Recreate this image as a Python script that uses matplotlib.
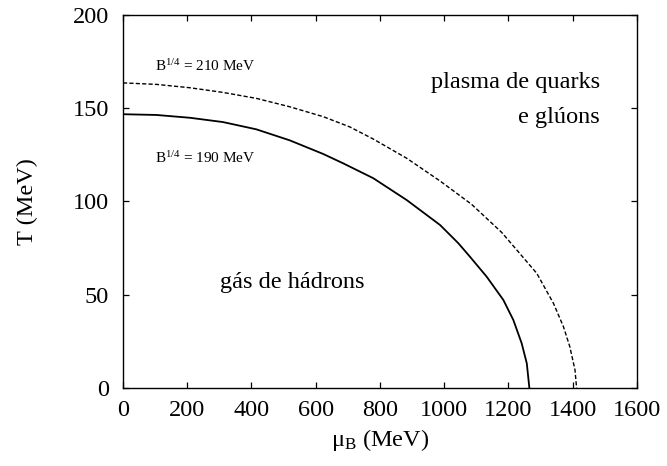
import matplotlib
matplotlib.use('Agg')
import matplotlib.pyplot as plt

plt.rcParams['font.family'] = ['Liberation Serif', 'DejaVu Serif']
plt.rcParams['mathtext.fontset'] = 'custom'
plt.rcParams['mathtext.rm'] = 'Liberation Serif'
plt.rcParams['mathtext.it'] = 'Liberation Serif:italic'

# critical line, B^1/4 = 190 MeV (mu_B, T in MeV)
mu_190 = [0, 104, 208, 311, 415, 519, 623, 685, 779, 883, 987, 1044,
          1080, 1132, 1184, 1215, 1241, 1257, 1265]
T_190 = [146.8, 146.4, 144.9, 142.6, 138.7, 132.8, 125.5, 120.5, 112.5,
         100.8, 87.4, 77.6, 70.4, 59.7, 47.2, 36.5, 24.0, 13.2, 0]

# critical line, B^1/4 = 210 MeV
mu_210 = [0, 104, 208, 311, 415, 519, 623, 706, 779, 883, 987, 1085,
          1179, 1288, 1340, 1371, 1391, 1407, 1412]
T_210 = [163.6, 162.8, 161.0, 158.5, 155.3, 150.8, 145.5, 140.0, 133.5,
         123.2, 111.0, 98.5, 83.4, 61.5, 45.4, 32.9, 22.1, 9.7, 0]

xticks = [0, 200, 400, 600, 800, 1000, 1200, 1400, 1600]
yticks = [0, 50, 100, 150, 200]

fig = plt.figure(figsize=(6.67, 4.66), dpi=100)
ax = fig.add_axes([0.1844, 0.1674, 0.7706, 0.8004])

ax.plot(mu_190, T_190, color='black', lw=1.3)
ax.plot(mu_210, T_210, color='black', lw=1.0, dashes=(3, 1.6))

ax.set_xlim(0, 1600)
ax.set_ylim(0, 200)
ax.set_xticks(xticks)
ax.set_yticks(yticks)
ax.tick_params(direction='in', length=4, width=0.9, top=True, right=True,
               labelsize=17.5)
ax.tick_params(axis='x', pad=9)
ax.tick_params(axis='y', pad=10)
for s in ax.spines.values():
    s.set_linewidth(1.0)

ax.set_xlabel('μ$_{\\mathrm{B}}$ (MeV)', fontsize=17.5, labelpad=4)
ax.set_ylabel('T (MeV)', fontsize=17.5, labelpad=25)

ax.text(100, 170, 'B$^{1/4}$ = 210 MeV', fontsize=11)
ax.text(100, 120.5, 'B$^{1/4}$ = 190 MeV', fontsize=11)
ax.text(1485, 161, 'plasma de quarks', fontsize=17.5, ha='right')
ax.text(1485, 142, 'e glúons', fontsize=17.5, ha='right')
ax.text(302, 53.6, 'gás de hádrons', fontsize=17.5)

fig.savefig('out.png', dpi=100)
